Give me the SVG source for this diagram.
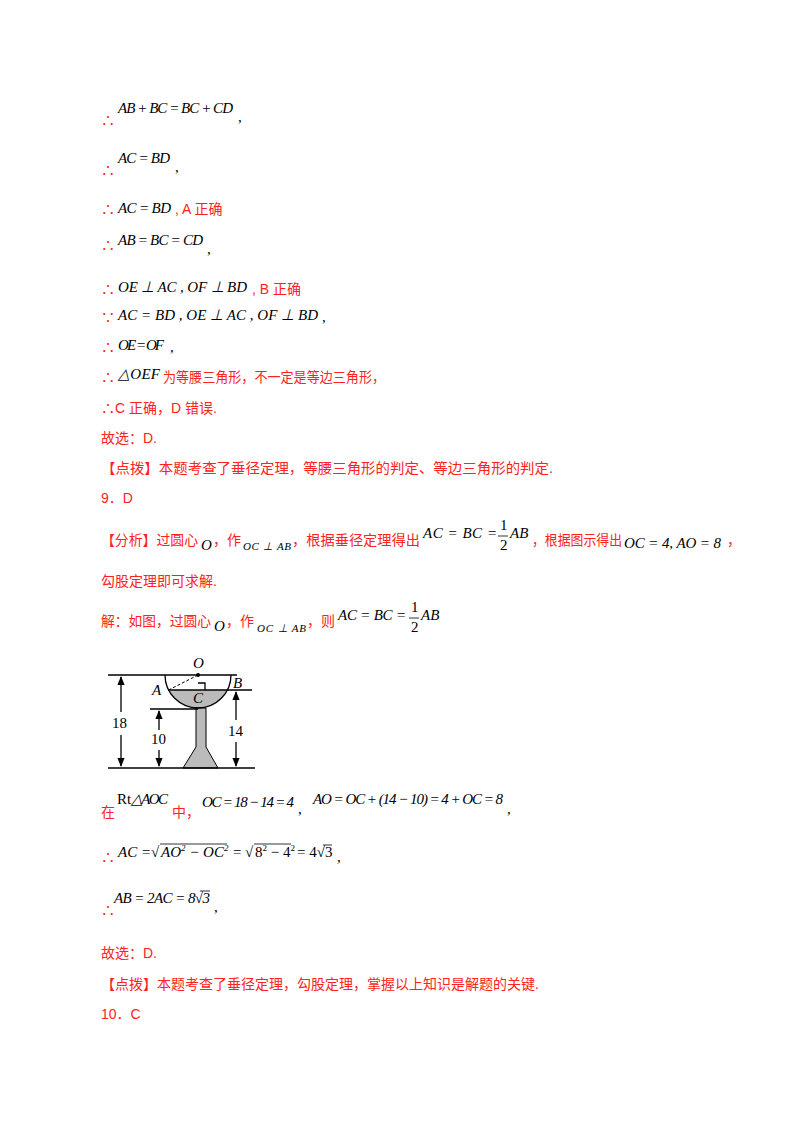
<svg xmlns="http://www.w3.org/2000/svg" width="800" height="1132" viewBox="0 0 800 1132">
<style>
.r{fill:#f22;font-family:"Liberation Sans","Noto Sans CJK SC",sans-serif;font-size:14px}
.m{fill:#000;font-family:"Liberation Serif",serif;font-style:italic;font-size:15px}
.n{fill:#000;font-family:"Liberation Serif",serif;font-size:15px}
.s{font-size:11px}
.k{stroke:#000;stroke-width:1.3;fill:none}
.o{stroke:#000;stroke-width:0.8}
</style>
<defs><marker id="ah" viewBox="0 0 10 10" refX="9" refY="5" markerWidth="7" markerHeight="8" orient="auto"><path d="M0,1 L10,5 L0,9 Z" fill="#000"/></marker></defs>
<rect width="800" height="1132" fill="#fff"/>
<text class="r" x="101" y="125">∴</text><text class="m" x="118" y="113" textLength="115" lengthAdjust="spacing">AB + BC = BC + CD</text><text class="n" x="238" y="122">,</text>
<text class="r" x="101" y="175">∴</text><text class="m" x="118" y="163" textLength="52" lengthAdjust="spacing">AC = BD</text><text class="n" x="175" y="172">,</text>
<text class="r" x="101" y="214">∴</text><text class="m" x="118" y="213" textLength="53" lengthAdjust="spacing">AC = BD</text><text class="r" x="175" y="214">, A 正确</text>
<text class="r" x="101" y="250">∴</text><text class="m" x="118" y="245" textLength="85" lengthAdjust="spacing">AB = BC = CD</text><text class="n" x="207" y="254">,</text>
<text class="r" x="101" y="294">∴</text><text class="m" x="118" y="292" textLength="129" lengthAdjust="spacing">OE ⊥ AC ,  OF ⊥ BD</text><text class="r" x="252" y="294">, B 正确</text>
<text class="r" x="101" y="322">∵</text><text class="m" x="118" y="320" textLength="200" lengthAdjust="spacing">AC = BD ,  OE ⊥ AC ,  OF ⊥ BD</text><text class="n" x="322" y="322">,</text>
<text class="r" x="101" y="352">∴</text><text class="m" x="118" y="350" font-size="13" textLength="46" lengthAdjust="spacing">OE = OF</text><text class="n" x="170" y="352">,</text>
<text class="r" x="101" y="382">∴</text><text class="m" x="118" y="379" textLength="42" lengthAdjust="spacing">△OEF</text><text class="r" x="163" y="382" textLength="222" lengthAdjust="spacingAndGlyphs">为等腰三角形，不一定是等边三角形，</text>
<text class="r" x="101" y="413">∴C 正确，D 错误.</text>
<text class="r" x="101" y="443">故选：D.</text>
<text class="r" x="101" y="473" textLength="452" lengthAdjust="spacingAndGlyphs">【点拨】本题考查了垂径定理，等腰三角形的判定、等边三角形的判定.</text>
<text class="r" x="101" y="503">9．D</text>
<text class="r" x="101" y="545" textLength="97" lengthAdjust="spacingAndGlyphs">【分析】过圆心</text><text class="m" x="201" y="550">O</text><text class="r" x="213" y="545">，作</text><text class="m s" x="243" y="550" textLength="48" lengthAdjust="spacing">OC ⊥ AB</text><text class="r" x="292" y="545" textLength="128" lengthAdjust="spacingAndGlyphs">，根据垂径定理得出</text>
<text class="m" x="423" y="538" textLength="74" lengthAdjust="spacing">AC = BC =</text><text class="n" x="500" y="530" font-size="13">1</text><line x1="498" y1="536" x2="508" y2="536" class="o"/><text class="n" x="500" y="550" font-size="13">2</text><text class="m" x="510" y="538">AB</text>
<text class="r" x="532" y="545" textLength="90" lengthAdjust="spacingAndGlyphs">，根据图示得出</text><text class="m" x="624" y="548" textLength="97" lengthAdjust="spacing">OC = 4, AO = 8</text><text class="r" x="727" y="545">，</text>
<text class="r" x="101" y="586">勾股定理即可求解.</text>
<text class="r" x="101" y="626" textLength="110" lengthAdjust="spacingAndGlyphs">解：如图，过圆心</text><text class="m" x="214" y="631">O</text><text class="r" x="226" y="626">，作</text><text class="m s" x="257" y="632" textLength="49" lengthAdjust="spacing">OC ⊥ AB</text><text class="r" x="307" y="626">，则</text>
<text class="m" x="338" y="620" textLength="68" lengthAdjust="spacing">AC = BC =</text><text class="n" x="411" y="612" font-size="13">1</text><line x1="409" y1="618" x2="419" y2="618" class="o"/><text class="n" x="411" y="632" font-size="13">2</text><text class="m" x="421" y="620">AB</text>
<g id="figure">
<path d="M168.6,690 L227.4,690 A33,33 0 0 1 198,708 A33,33 0 0 1 168.6,690 Z" fill="#bbb"/>
<path d="M196,708 L206,708 L206,747 L218,768 L183,768 L196,747 Z" fill="#bbb" stroke="#000" stroke-width="1"/>
<path class="k" d="M165,675 A33,33 0 0 0 231,675"/>
<line class="k" x1="108" y1="675" x2="237" y2="675"/>
<line class="k" x1="168" y1="690" x2="252" y2="690"/>
<line class="k" x1="150" y1="709" x2="198" y2="709"/>
<line class="k" x1="108" y1="768" x2="255" y2="768"/>
<line x1="168.6" y1="690" x2="198" y2="675" stroke="#000" stroke-dasharray="3,2"/>
<circle cx="198" cy="675" r="2" fill="#000"/>
<path class="k" d="M198,683 L205,683 L205,690" stroke-width="1"/>
<line class="k" x1="121" y1="712" x2="121" y2="677" marker-end="url(#ah)"/><line class="k" x1="121" y1="735" x2="121" y2="766" marker-end="url(#ah)"/>
<line class="k" x1="159" y1="730" x2="159" y2="711" marker-end="url(#ah)"/><line class="k" x1="159" y1="750" x2="159" y2="766" marker-end="url(#ah)"/>
<line class="k" x1="236" y1="720" x2="236" y2="692" marker-end="url(#ah)"/><line class="k" x1="236" y1="742" x2="236" y2="766" marker-end="url(#ah)"/>
<text class="n" x="112" y="728" font-size="14">18</text><text class="n" x="151" y="744" font-size="14">10</text><text class="n" x="228" y="736" font-size="14">14</text>
<text class="m" x="193" y="668">O</text><text class="m" x="152" y="695">A</text><text class="m" x="233" y="688">B</text><text class="m" x="193" y="703">C</text>
</g>
<text class="r" x="101" y="817">在</text><text class="n" x="117" y="804" font-size="14">Rt</text><text class="m" x="131" y="804" font-size="14" textLength="37" lengthAdjust="spacing">△AOC</text><text class="r" x="172" y="817">中，</text><text class="m" x="202" y="807" textLength="92" lengthAdjust="spacing">OC = 18 − 14 = 4</text><text class="n" x="298" y="814">,</text>
<text class="m" x="313" y="804" textLength="190" lengthAdjust="spacing">AO = OC + (14 − 10) = 4 + OC = 8</text><text class="n" x="507" y="814">,</text>
<text class="r" x="101" y="862">∴</text>
<text class="m" x="118" y="857">AC =</text><text class="n" x="151" y="857">√</text><text class="m" x="161" y="857">AO<tspan font-size="9" dy="-6">2</tspan><tspan dy="6"> − OC</tspan><tspan font-size="9" dy="-6">2</tspan></text>
<line x1="160" y1="844" x2="227" y2="844" class="o"/>
<text class="n" x="233" y="857">=</text><text class="n" x="245" y="857">√</text><text class="n" x="255" y="857">8<tspan font-size="9" dy="-6">2</tspan><tspan dy="6"> − 4</tspan><tspan font-size="9" dy="-6">2</tspan></text>
<line x1="254" y1="844" x2="291" y2="844" class="o"/>
<text class="n" x="297" y="857">= 4√3</text><line x1="323" y1="845" x2="332" y2="845" class="o"/>
<text class="n" x="337" y="862">,</text>
<text class="r" x="101" y="915">∴</text><text class="m" x="114" y="903" textLength="96" lengthAdjust="spacing">AB = 2AC = 8√3</text><text class="n" x="214" y="912">,</text>
<line x1="200" y1="891" x2="210" y2="891" class="o"/>
<text class="r" x="101" y="958">故选：D.</text>
<text class="r" x="101" y="989">【点拨】本题考查了垂径定理，勾股定理，掌握以上知识是解题的关键.</text>
<text class="r" x="101" y="1019">10．C</text>
</svg>
